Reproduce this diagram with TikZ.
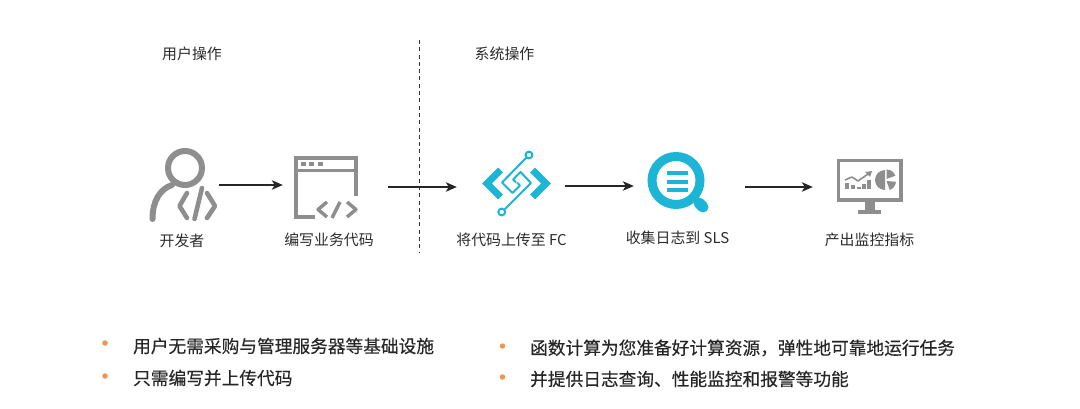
\documentclass[tikz,border=0pt]{standalone}
\usepackage{fontspec}
\setmainfont{Noto Sans CJK SC}
\newfontfamily\medfont[FakeBold=0.35]{Noto Sans CJK SC}
\usetikzlibrary{arrows.meta,positioning}
\definecolor{OGray}{HTML}{8E8E8E}
\definecolor{OCyan}{HTML}{1DB5D6}
\definecolor{OOrange}{HTML}{EE9550}
\definecolor{OInk}{HTML}{2B2B2B}
\begin{document}
\begin{tikzpicture}[
  x=1pt,y=-1pt,
  every node/.style={text=OInk,inner sep=0pt},
  icon/.style={minimum height=20pt},
  label text/.style={font=\fontsize{14.9}{16}\selectfont},
  point/.style={font=\fontsize{17.7}{20}\medfont,text=black!85,anchor=west},
  dot/.style={circle,fill=OOrange,minimum size=5.5pt},
  arr/.style={-{Stealth[length=11pt,width=9.5pt,inset=3pt]},line width=1.3pt,color=black!85},
  gline/.style={draw=OGray,line width=4pt},
  cline/.style={draw=OCyan,line width=2pt}
]
  \useasboundingbox (0,0) rectangle (1080,409);
  % anchors of the five icons
  \node[icon,minimum width=67pt] (dev) at (183.5,185) {};
  \node[icon,minimum width=64pt] (code) at (326,187) {};
  \node[icon,minimum width=68pt] (fc) at (516,186) {};
  \node[icon,minimum width=63pt] (sls) at (678.5,187) {};
  \node[icon,minimum width=65pt] (mon) at (869.5,187) {};
  \node[label text] (devtxt) at (182,241) {开发者};
  \node[label text] (codetxt) at (329,240) {编写业务代码};
  \node[label text] (fctxt) at (511.5,240) {将代码上传至 FC};
  \node[label text] (slstxt) at (677.5,238) {收集日志到 SLS};
  \node[label text] (montxt) at (869.5,240) {产出监控指标};
  \node[label text] (usr) at (192,53.5) {用户操作};
  \node[label text] (sys) at (504.5,53.5) {系统操作};
  % divider
  \coordinate (divtop) at (419.5,40);
  \coordinate (divbot) at (419.5,252);
  \draw[black!80,line width=1.2pt,dash pattern=on 4pt off 3.3pt] (divtop) -- (divbot);
  % developer
  \draw[gline,line width=6pt] (185,168) circle (17);
  \draw[gline,line width=6pt,line cap=round] (152.5,219) .. controls (152.5,201) and (160,189) .. (172,185);
  \draw[gline,line width=4.6pt,line cap=round,line join=round] (187,193) -- (179.5,206) -- (187,218);
  \draw[gline,line width=4.6pt,line cap=round] (202,188) -- (194.5,219);
  \draw[gline,line width=4.6pt,line cap=round,line join=round] (207,193) -- (215,206) -- (207,218);
  % code window
  \draw[gline] (315,217.5) -- (295.5,217.5) -- (295.5,158.5) -- (356,158.5) -- (356,196);
  \draw[gline,line width=3.4pt] (295,170.5) -- (356,170.5);
  \foreach \x in {303,311.5,320} \fill[OGray] (\x-2.5,162) rectangle (\x+2.5,166);
  \draw[gline,line width=3.4pt,line join=round] (327,202) -- (318,209.5) -- (327,217);
  \draw[gline,line width=3.4pt] (340,202) -- (332,218);
  \draw[gline,line width=3.4pt,line join=round] (347,202) -- (356,209.5) -- (347,217);
  % fc
  \draw[OCyan,line width=7pt] (500.5,170) -- (487,183.5) -- (500.5,197);
  \draw[OCyan,line width=7pt] (532.5,170) -- (546,183.5) -- (532.5,197);
  \draw[cline] (529,155) circle (3.4);
  \draw[cline] (501.7,212) circle (3.4);
  \draw[cline,line join=round] (526.5,157.5) -- (502,182.5) -- (512.5,193) -- (520,185.5) -- (517,182.5);
  \draw[cline,line join=round] (504.5,209.5) -- (531,183) -- (520.5,172) -- (513,179.5) -- (516,182.5);
  % sls
  \draw[OCyan,line width=9pt] (676,180.5) circle (24);
  \draw[OCyan,line width=11pt,line cap=round] (699,203) -- (703,207);
  \foreach \y in {173,182,190}
    \draw[OCyan,line width=3.5pt] (667,\y) -- (688,\y);
  % monitor
  \draw[gline,line width=3.4pt] (838.7,160.5) rectangle (901,200);
  \fill[OGray] (865,200) rectangle (875,211);
  \fill[OGray] (858,210) rectangle (881,214);
  \draw[OGray,line width=1.6pt,line join=round] (845,180) -- (852,177) -- (858,181) -- (868,174);
  \fill[OGray] (872,171) -- (865,172) -- (870,177) -- cycle;
  \foreach \x/\y in {845/183,851/185,857/187,862/184,867/180}
    \fill[OGray] (\x,\y) rectangle (\x+3.5,189);
  \fill[OGray] (885,190) arc (90:270:10) -- cycle;
  \fill[OGray] (886.5,179) -- +(270:9.5) arc (270:340:9.5) -- cycle;
  \fill[OGray] (886.5,181) -- +(5:9.5) arc (5:70:9.5) -- cycle;
  % bullets
  \node[dot] (a) at (105,343) {};
  \node[dot] (b) at (105,376) {};
  \node[dot] (c) at (502.5,346) {};
  \node[dot] (d) at (502.5,377) {};
  \node[point,right=25pt of a,yshift=-3pt] (atxt) {用户无需采购与管理服务器等基础设施};
  \node[point,right=25pt of b,yshift=-2pt] (btxt) {只需编写并上传代码};
  \node[point,right=24.5pt of c,yshift=-2pt] (ctxt) {函数计算为您准备好计算资源\char"FF0C 弹性地可靠地运行任务};
  \node[point,right=24.5pt of d,yshift=-2pt] (dtxt) {并提供日志查询、性能监控和报警等功能};
  % arrows
  \draw[arr,shorten <=2pt,shorten >=11pt] (dev.east) -- (dev.east -| code.west);
  \draw[arr,shorten <=30pt,shorten >=25pt] (code.east) -- (code.east -| fc.west);
  \draw[arr,shorten <=15pt,shorten >=13pt] (fc.east) -- (fc.east -| sls.west);
  \draw[arr,shorten <=35pt,shorten >=24pt] (sls.east) -- (sls.east -| mon.west);
\end{tikzpicture}
\end{document}
